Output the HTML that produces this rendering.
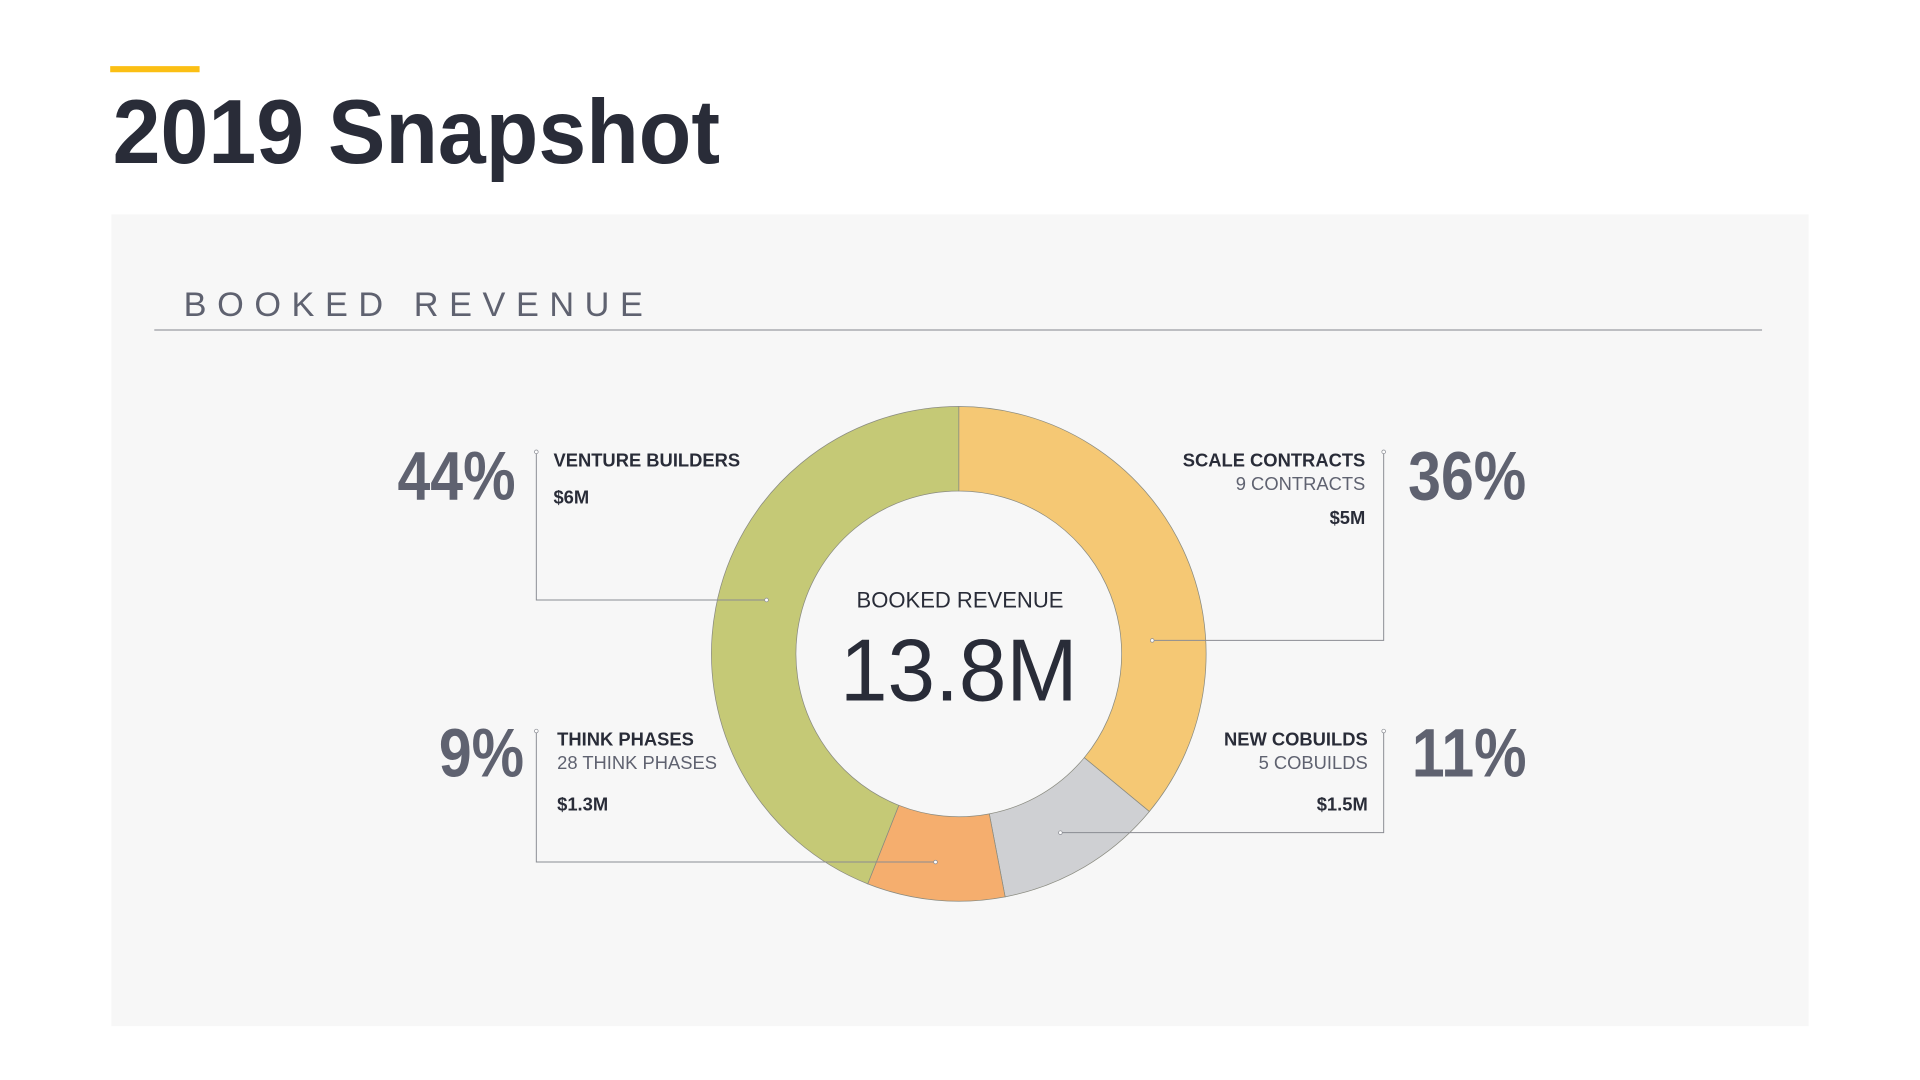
<!DOCTYPE html>
<html><head><meta charset="utf-8"><style>
html,body{margin:0;padding:0;background:#fff;}
svg{display:block;}
text{font-family:"Liberation Sans",sans-serif;}
</style></head><body>
<svg width="1920" height="1080" viewBox="0 0 1568 882" preserveAspectRatio="none" xmlns="http://www.w3.org/2000/svg">
<rect x="90" y="54" width="73" height="5" fill="#fbbf14"/>
<text x="92" y="133" font-size="74" font-weight="bold" fill="#292c38" textLength="496" lengthAdjust="spacingAndGlyphs">2019 Snapshot</text>
<rect x="91" y="175" width="1386" height="663" fill="#f7f7f7"/>
<text x="150" y="258" font-size="28" fill="#5f6270" textLength="375" lengthAdjust="spacing">BOOKED REVENUE</text>
<line x1="126" y1="269.5" x2="1439" y2="269.5" stroke="#9a9ca3" stroke-width="1"/>
<g id="donut"></g>
<g id="labels"></g>
<text x="784" y="496" font-size="18" fill="#292c38" text-anchor="middle">BOOKED REVENUE</text>
<text x="783" y="572" font-size="72" fill="#292c38" text-anchor="middle" textLength="194" lengthAdjust="spacingAndGlyphs">13.8M</text>
</svg>
<script>
const categories = ["SCALE CONTRACTS","NEW COBUILDS","THINK PHASES","VENTURE BUILDERS"];
const values = [36, 11, 9, 44];
const amounts = ["$5M","$1.5M","$1.3M","$6M"];
const subLabels = ["9 CONTRACTS","5 COBUILDS","28 THINK PHASES",""];
const colors = ["#f5c874","#cfd0d3","#f5ae6e","#c5c976"];

const NS = "http://www.w3.org/2000/svg";
const cx = 783, cy = 534, R = 202, r = 133;
const total = values.reduce((a,b)=>a+b,0);
function angle(v){ return v/total*Math.PI*2; }
function pt(rad, a){ return [cx + rad*Math.sin(a), cy - rad*Math.cos(a)]; }
const donut = document.getElementById('donut');
let acc = 0;
values.forEach((v,i)=>{
  const a0 = angle(acc), a1 = angle(acc+v); acc += v;
  const large = (a1-a0) > Math.PI ? 1 : 0;
  const [x0,y0]=pt(R,a0),[x1,y1]=pt(R,a1),[x2,y2]=pt(r,a1),[x3,y3]=pt(r,a0);
  const p = document.createElementNS(NS,'path');
  p.setAttribute('d',`M${x0},${y0} A${R},${R} 0 ${large} 1 ${x1},${y1} L${x2},${y2} A${r},${r} 0 ${large} 0 ${x3},${y3} Z`);
  p.setAttribute('fill',colors[i]);
  p.setAttribute('stroke','#8a8b80');
  p.setAttribute('stroke-width','0.6');
  
  
  donut.appendChild(p);
});

const layout = [
  {side:'right', tx:1115, pctX:1150, y:381, lx:1130, ly0:369, ly1:523, dx:941},
  {side:'right', tx:1117, pctX:1153, y:609, lx:1130, ly0:597, ly1:680, dx:866},
  {side:'left',  tx:455,  pctX:428,  y:609, lx:438,  ly0:597, ly1:704, dx:764},
  {side:'left',  tx:452,  pctX:421,  y:381, lx:438,  ly0:369, ly1:490, dx:626}
];
const lg = document.getElementById('labels');
function txt(x,y,s,size,weight,fill,anchor,name){
  const t=document.createElementNS(NS,'text');
  t.setAttribute('x',x);t.setAttribute('y',y);t.setAttribute('font-size',size);
  t.setAttribute('font-weight',weight);t.setAttribute('fill',fill);t.setAttribute('text-anchor',anchor);
  t.textContent=s;
  
  
  lg.appendChild(t);return t;
}
values.forEach((v,i)=>{
  const L=layout[i];
  const anchor = L.side==='right' ? 'end' : 'start';
  const pctAnchor = L.side==='right' ? 'start' : 'end';
  const pctY = L.y + (i===0||i===3 ? 27 : 25);
  const pt_ = txt(L.pctX, pctY, Math.round(v/total*100)+'%', 56, 'bold', '#5f6270', pctAnchor, 'percent-label');
  const w = pt_.getComputedTextLength();
  pt_.setAttribute('textLength', (w*0.86).toFixed(1));
  pt_.setAttribute('lengthAdjust','spacingAndGlyphs');
  txt(L.tx, L.y, categories[i], 15, 'bold', '#292c38', anchor, 'category-label');
  if(subLabels[i]) txt(L.tx, L.y+19, subLabels[i], 15, 'normal', '#5f6270', anchor, 'count-label');
  const amY = subLabels[i] ? (L.y<500 ? L.y+47 : L.y+53) : L.y+30;
  txt(L.tx, amY, amounts[i], 15, 'bold', '#292c38', anchor, 'amount-label');
  const pl=document.createElementNS(NS,'polyline');
  pl.setAttribute('points',`${L.lx},${L.ly0} ${L.lx},${L.ly1} ${L.dx},${L.ly1}`);
  pl.setAttribute('fill','none');pl.setAttribute('stroke','#8a8c93');pl.setAttribute('stroke-width','0.8');
  
  
  lg.appendChild(pl);
  [[L.lx,L.ly0],[L.dx,L.ly1]].forEach(([x,y])=>{
    const c=document.createElementNS(NS,'circle');
    c.setAttribute('cx',x);c.setAttribute('cy',y);c.setAttribute('r',1.5);
    c.setAttribute('fill','#fff');c.setAttribute('stroke','#8a8c93');c.setAttribute('stroke-width','0.6');
    
    
    lg.appendChild(c);
  });
});
</script>
</body></html>
